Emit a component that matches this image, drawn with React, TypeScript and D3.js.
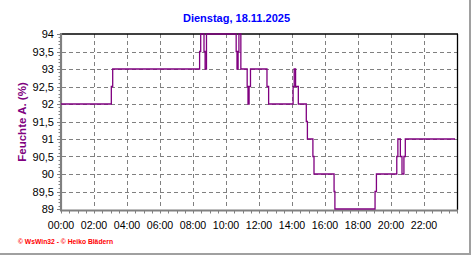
import React from "react";
import * as d3 from "d3";

const title = "Dienstag, 18.11.2025";
const yLabel = "Feuchte A. (%)";
const footer = "© WsWin32 - © Heiko Blädern";

// step data: time (HH:MM) and humidity value from that time on
const times = [
  "00:00", "03:03", "03:08", "08:24", "08:28", "08:40", "08:44", "08:49",
  "10:37", "10:40", "10:44", "10:47", "10:54", "11:17", "11:20", "11:24",
  "11:29", "12:29", "12:35", "14:04", "14:08", "14:13", "14:23", "14:52",
  "14:56", "15:16", "15:20", "16:33", "16:36", "19:02", "19:07", "20:21",
  "20:25", "20:34", "20:40", "20:47", "20:52", "23:53",
];
const values = [
  92, 92.5, 93, 93.5, 94, 93.5, 93, 94,
  93.5, 93, 93.5, 94, 93, 92.5, 92, 92.5,
  93, 92.5, 92, 92.5, 93, 92.5, 92, 91.5,
  91, 90.5, 90, 89.5, 89, 89.5, 90, 90.5,
  91, 90.5, 90, 90.5, 91, 91,
];

const yTicks = [89, 89.5, 90, 90.5, 91, 91.5, 92, 92.5, 93, 93.5, 94];
const xTicks = [0, 2, 4, 6, 8, 10, 12, 14, 16, 18, 20, 22];

const toHours = (s: string) => {
  const [h, m] = s.split(":").map(Number);
  return h + m / 60;
};
const fmtY = (v: number) => String(v).replace(".", ",");
const fmtX = (h: number) => String(h).padStart(2, "0") + ":00";

export default function App() {
  const W = 472, H = 255;
  const x = d3.scaleLinear().domain([0, 24]).range([61, 457]);
  const y = d3.scaleLinear().domain([89, 94]).range([209, 34]);
  const data = times.map((t, i) => ({ t: toHours(t), v: values[i] }));
  const line = d3
    .line<{ t: number; v: number }>()
    .x((d) => x(d.t))
    .y((d) => y(d.v))
    .curve(d3.curveStepAfter);

  const px = (v: number) => Math.round(v) + 0.5;
  const minorY = d3.range(89, 94.001, 0.1);
  const minorX = d3.range(0, 24.001, 0.5);
  const font = "'Liberation Sans', Arial, sans-serif";

  return (
    <svg
      width={W}
      height={H}
      style={{ position: "absolute", left: 0, top: 0, background: "#fff" }}
    >
      <rect x={0} y={0} width={W} height={H} fill="#fff" />
      {/* frame */}
      <line x1={470} x2={470} y1={0} y2={254} stroke="#a0a0a0" strokeWidth={2} />
      <line x1={0} x2={471} y1={254} y2={254} stroke="#a0a0a0" strokeWidth={2} />

      {/* title */}
      <text
        x={236.5}
        y={22}
        textAnchor="middle"
        fontFamily={font}
        fontWeight="bold"
        fontSize={11}
        fill="#0000ff"
      >
        {title}
      </text>

      {/* grid */}
      {yTicks
        .filter((v) => v > 89 && v < 94)
        .map((v) => (
          <line
            key={"gy" + v}
            x1={62}
            x2={457}
            y1={px(y(v))}
            y2={px(y(v))}
            stroke="#808080"
            strokeDasharray="4 3"
          />
        ))}
      {xTicks
        .filter((h) => h > 0)
        .map((h) => (
          <line
            key={"gx" + h}
            x1={px(x(h))}
            x2={px(x(h))}
            y1={34}
            y2={209}
            stroke="#808080"
            strokeDasharray="4 3"
          />
        ))}

      {/* top & right border */}
      <line x1={61} x2={458} y1={34} y2={34} stroke="#000" strokeWidth={1.3} />
      <line x1={457.5} x2={457.5} y1={34} y2={210} stroke="#000" strokeWidth={1.3} />

      {/* y axis */}
      <line x1={61} x2={61} y1={33} y2={211} stroke="#808080" strokeWidth={2.2} />
      {minorY.map((v, i) => (
        <line
          key={"my" + i}
          x1={58.5}
          x2={61}
          y1={px(y(v))}
          y2={px(y(v))}
          stroke="#808080"
        />
      ))}
      {yTicks.map((v) => (
        <g key={"ty" + v}>
          <line x1={57} x2={61} y1={px(y(v))} y2={px(y(v))} stroke="#808080" />
          <text
            x={54}
            y={y(v) + 4}
            textAnchor="end"
            fontFamily={font}
            fontSize={11}
            fill="#000"
          >
            {fmtY(v)}
          </text>
        </g>
      ))}

      {/* x axis */}
      <line x1={60} x2={458} y1={210.6} y2={210.6} stroke="#808080" strokeWidth={2} />
      {minorX.map((h, i) => (
        <line
          key={"mx" + i}
          x1={px(x(h))}
          x2={px(x(h))}
          y1={211}
          y2={213.5}
          stroke="#808080"
        />
      ))}
      {xTicks.map((h) => (
        <text
          key={"tx" + h}
          x={x(h)}
          y={228.5}
          textAnchor="middle"
          fontFamily={font}
          fontSize={10.6}
          fill="#000"
        >
          {fmtX(h)}
        </text>
      ))}

      {/* data */}
      <path d={line(data) || ""} fill="none" stroke="#800080" strokeWidth={1.3} />

      {/* y label */}
      <text
        transform={`translate(26,122) rotate(-90)`}
        textAnchor="middle"
        fontFamily={font}
        fontWeight="bold"
        fontSize={11.5}
        fill="#800080"
      >
        {yLabel}
      </text>

      {/* footer */}
      <text
        x={18}
        y={244}
        fontFamily={font}
        fontWeight="bold"
        fontSize={7}
        fill="#ff0000"
        textLength={95}
        lengthAdjust="spacingAndGlyphs"
      >
        {footer}
      </text>
    </svg>
  );
}
